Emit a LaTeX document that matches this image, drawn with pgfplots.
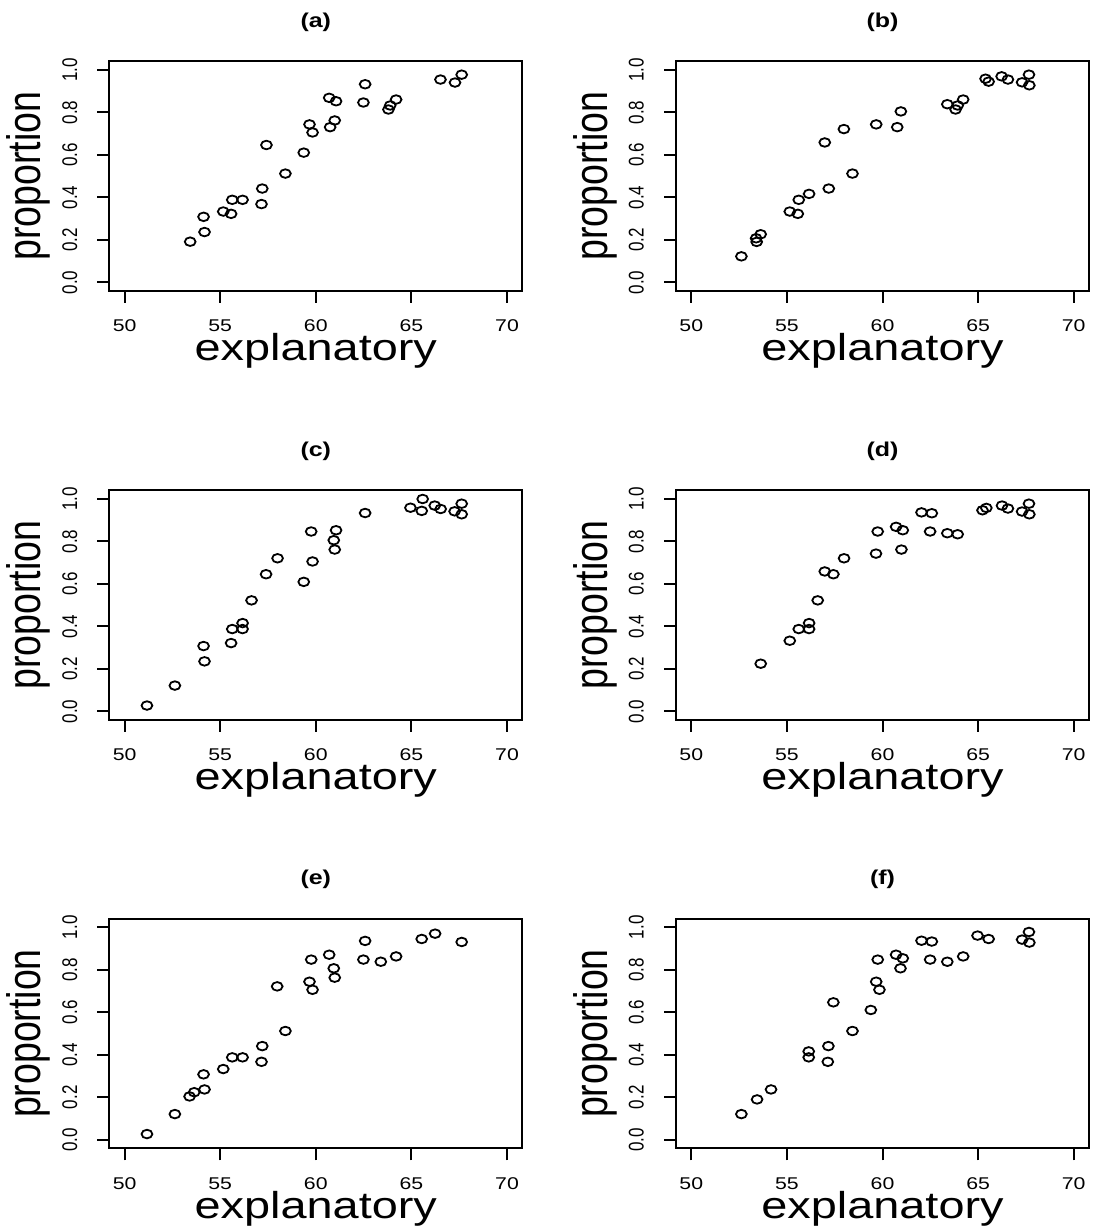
\documentclass[border=0pt]{standalone}
\usepackage{pgfplots}
\pgfplotsset{compat=1.18}
\usepackage{graphicx}
\usepackage{fontspec}
\setmainfont{Liberation Sans}
\newcommand{\sx}[1]{\scalebox{1.25}[1]{#1}}
\newcommand{\sy}[1]{\scalebox{1}[1.25]{#1}}
\pgfdeclareplotmark{oval}{%
  \pgfpathellipse{\pgfpointorigin}{\pgfqpoint{2.7pt}{0pt}}{\pgfqpoint{0pt}{2.15pt}}%
  \pgfusepathqstroke}
\pgfplotsset{
  panel/.style={
    scale only axis, width=206.5pt, height=114.75pt,
    xmin=49.2, xmax=70.8, ymin=-0.04, ymax=1.04,
    xtick={50,55,60,65,70},
    xticklabels={\sx{50},\sx{55},\sx{60},\sx{65},\sx{70}},
    ytick={0,0.2,0.4,0.6,0.8,1.0},
    yticklabels={\sy{0.0},\sy{0.2},\sy{0.4},\sy{0.6},\sy{0.8},\sy{1.0}},
    tick align=outside, major tick length=6pt,
    xtick pos=left, ytick pos=left,
    axis line style={line width=1pt, black},
    every tick/.style={black, line width=1pt},
    tick label style={font=\fontsize{8.5}{9}\selectfont, inner sep=0pt},
    xticklabel style={anchor=base}, xticklabel shift=14.35pt,
    yticklabel style={rotate=90, anchor=base}, yticklabel shift=10.15pt,
    xlabel={\sx{explanatory}},
    every axis x label/.style={at={(axis description cs:0.5,-0.305)}, anchor=base, inner sep=0pt, font=\fontsize{18.75}{20}\selectfont},
    ylabel={\sy{proportion}},
    every axis y label/.style={at={(axis description cs:-0.1661,0.5)}, rotate=90, anchor=base, inner sep=0pt, font=\fontsize{18.75}{20}\selectfont},
    every axis title/.style={at={(axis description cs:0.5,1.148)}, anchor=base, font=\fontsize{10}{12}\selectfont\bfseries},
    clip=false,
  },
  pts/.style={only marks, mark=oval, mark options={line width=0.9pt, black}},
}
\pgfplotstableread{
x y
53.43 0.192
54.13 0.309
54.18 0.2375
55.16 0.334
55.57 0.323
55.63 0.389
56.17 0.389
57.20 0.442
57.16 0.369
57.42 0.647
58.41 0.5125
59.37 0.611
59.67 0.744
59.83 0.706
60.70 0.869
61.06 0.853
60.75 0.731
60.99 0.7625
62.58 0.933
62.49 0.847
63.80 0.814
63.89 0.833
64.20 0.861
66.52 0.955
67.28 0.941
67.63 0.978
}\dataA
\pgfplotstableread{
x y
52.62 0.123
53.39 0.208
53.42 0.191
53.63 0.227
55.15 0.334
55.57 0.323
55.62 0.389
56.16 0.417
57.19 0.442
56.98 0.659
57.98 0.722
58.43 0.5125
59.67 0.744
60.77 0.731
60.96 0.805
63.39 0.839
63.82 0.814
63.93 0.833
64.22 0.861
65.39 0.959
65.55 0.945
66.23 0.970
66.56 0.955
67.30 0.942
67.66 0.978
67.68 0.928
}\dataB
\pgfplotstableread{
x y
51.17 0.028
52.63 0.122
54.13 0.308
54.18 0.236
55.57 0.322
55.63 0.388
56.17 0.416
56.17 0.388
56.64 0.523
57.40 0.646
58.00 0.721
59.37 0.610
59.76 0.847
59.83 0.706
60.94 0.806
61.06 0.853
60.99 0.762
62.58 0.934
64.95 0.959
65.59 1.000
65.54 0.944
66.22 0.969
66.53 0.953
67.26 0.942
67.63 0.978
67.63 0.928
}\dataC
\pgfplotstableread{
x y
53.63 0.225
55.15 0.333
55.62 0.388
56.16 0.416
56.16 0.388
56.61 0.523
56.98 0.659
57.43 0.646
57.99 0.721
59.66 0.743
59.75 0.847
60.71 0.869
61.06 0.853
60.99 0.762
62.04 0.937
62.58 0.933
62.49 0.847
63.39 0.839
63.93 0.834
65.23 0.947
65.43 0.958
66.25 0.969
66.56 0.955
67.30 0.941
67.66 0.978
67.68 0.928
}\dataD
\pgfplotstableread{
x y
51.17 0.027
52.63 0.121
53.40 0.204
53.64 0.224
54.13 0.308
54.18 0.237
55.16 0.333
55.63 0.388
56.17 0.388
57.20 0.441
57.16 0.367
57.98 0.722
58.41 0.512
59.67 0.744
59.76 0.848
59.83 0.706
60.70 0.871
60.94 0.807
60.99 0.763
62.58 0.936
62.49 0.848
63.40 0.838
64.20 0.863
65.54 0.945
66.24 0.970
67.63 0.931
}\dataE
\pgfplotstableread{
x y
52.62 0.121
53.44 0.190
54.17 0.237
56.14 0.416
56.14 0.388
57.17 0.441
57.14 0.367
57.43 0.647
58.43 0.512
59.39 0.611
59.67 0.744
59.84 0.706
59.75 0.848
60.71 0.871
61.06 0.854
60.94 0.807
62.04 0.937
62.58 0.933
62.49 0.848
63.39 0.838
64.22 0.863
64.97 0.961
65.55 0.945
67.30 0.942
67.66 0.978
67.68 0.928
}\dataF
\begin{document}
\begin{tikzpicture}
\useasboundingbox (0,0) rectangle (548.5pt,615.5pt);
\begin{axis}[panel, at={(54.65pt,470pt)}, anchor=south west, title={\sx{(a)}}]
\addplot[pts] table[x=x,y=y] {\dataA};
\end{axis}
\begin{axis}[panel, at={(338pt,470pt)}, anchor=south west, title={\sx{(b)}}]
\addplot[pts] table[x=x,y=y] {\dataB};
\end{axis}
\begin{axis}[panel, at={(54.65pt,255.5pt)}, anchor=south west, title={\sx{(c)}}]
\addplot[pts] table[x=x,y=y] {\dataC};
\end{axis}
\begin{axis}[panel, at={(338pt,255.5pt)}, anchor=south west, title={\sx{(d)}}]
\addplot[pts] table[x=x,y=y] {\dataD};
\end{axis}
\begin{axis}[panel, at={(54.65pt,41.35pt)}, anchor=south west, title={\sx{(e)}}]
\addplot[pts] table[x=x,y=y] {\dataE};
\end{axis}
\begin{axis}[panel, at={(338pt,41.35pt)}, anchor=south west, title={\sx{(f)}}]
\addplot[pts] table[x=x,y=y] {\dataF};
\end{axis}
\end{tikzpicture}
\end{document}
